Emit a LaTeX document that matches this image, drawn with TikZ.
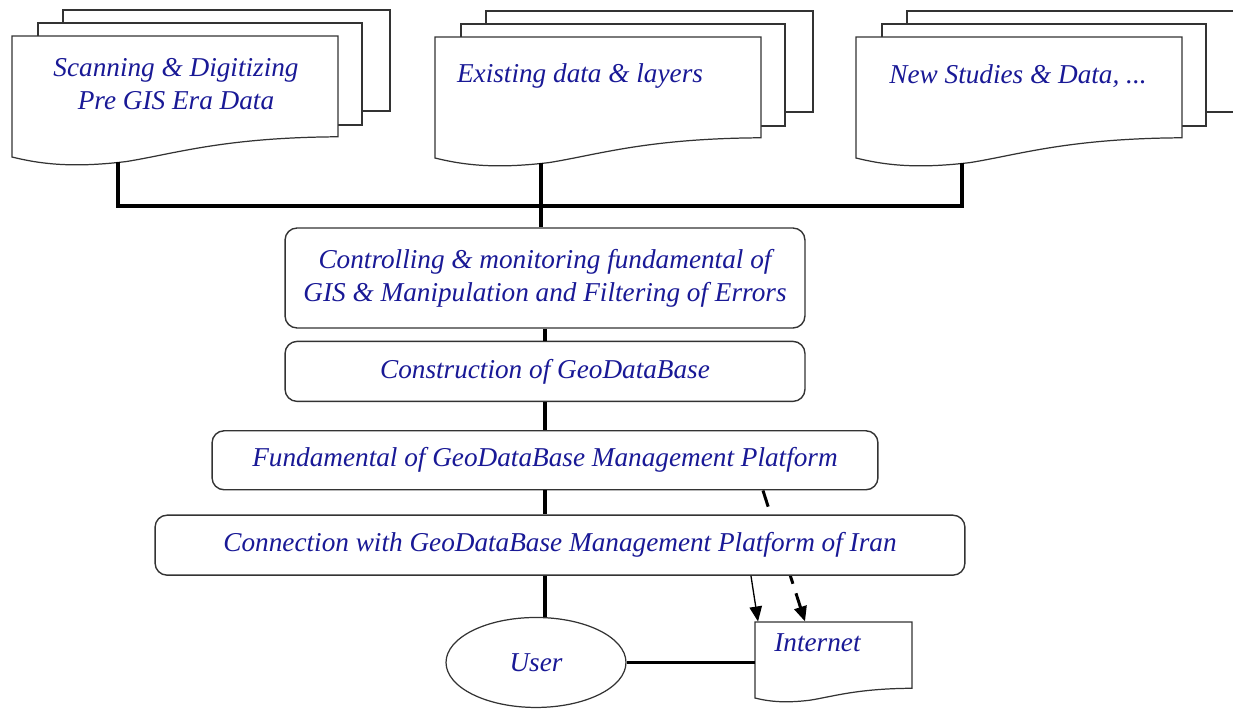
\documentclass[tikz,border=0pt]{standalone}
\usepackage{fontspec}
\setmainfont{Liberation Serif}
\usepackage{tikz}
\usetikzlibrary{arrows.meta,positioning,shapes.geometric,backgrounds}
\definecolor{navyink}{RGB}{25,25,150}

% sheet with a wavy lower edge: left, top, right, bottom (left side)
\newcommand{\wavedoc}[4]{%
  \pgfmathsetmacro{\docw}{#3-(#1)}
  \draw[docline] (#1,#4) -- (#1,#2) -- (#3,#2) -- (#3,#4-0.062*\docw)
    .. controls (#1+0.65*\docw,#4-0.06*\docw) and (#1+0.5*\docw,#4-0.01*\docw) .. (#1+0.35*\docw,#4+0.014*\docw)
    .. controls (#1+0.2*\docw,#4+0.032*\docw) and (#1+0.1*\docw,#4+0.025*\docw) .. (#1,#4) -- cycle;
}
% three stacked sheets: left, top, name of the foot coordinate
\newcommand{\docstack}[3]{%
  \draw[docline] (#1+51,#2-26) rectangle (#1+378,#2+75);
  \draw[docline] (#1+26,#2-13) rectangle (#1+350,#2+89);
  \wavedoc{#1}{#2}{#1+326}{#2+121}
  \coordinate (#3) at (#1+106,#2+126);
}

\begin{document}
\begin{tikzpicture}[x=0.02cm,y=-0.02cm,semithick,
                    >={Triangle[length=0.3cm,width=0.25cm]}]
\tikzstyle{every node}=[font=\fontsize{15.5}{19}\selectfont\itshape,text=navyink]
\tikzstyle{docline}=[draw=black!80,line width=0.7pt,fill=white]
\tikzstyle{stage}=[rectangle,rounded corners=0.24cm,draw=black!80,line width=0.8pt,
                   fill=white,align=center,inner sep=0pt]
\tikzstyle{wire}=[draw=black,line width=2pt]
\useasboundingbox (0,0) rectangle (1233,710);

\docstack{12}{36}{scanfoot}
\docstack{435}{37}{layersfoot}
\docstack{856}{37}{studiesfoot}
\node[align=center] (scan) at (176,84) {Scanning \& Digitizing\\Pre GIS Era Data};
\node (layers) at (580,76) {Existing data \& layers};
\node (studies) at (1018,76) {New Studies \& Data, ...};

\node[stage,minimum width=10.4cm,minimum height=2cm] (check) at (545,278)
  {Controlling \& monitoring fundamental of\\GIS \& Manipulation and Filtering of Errors};
\node[stage,minimum width=10.4cm,minimum height=1.2cm,below=0.24cm of check] (build)
  {Construction of GeoDataBase};
\node[stage,minimum width=13.32cm,minimum height=1.18cm,below=0.56cm of build] (base)
  {Fundamental of GeoDataBase Management Platform};
\node[stage,minimum width=16.2cm,minimum height=1.2cm,below=0.48cm of base,xshift=0.3cm] (link)
  {Connection with GeoDataBase Management Platform of Iran};
\node[ellipse,draw=black!80,line width=0.7pt,fill=white,minimum width=3.6cm,minimum height=1.8cm,
      inner sep=0pt,below=0.82cm of link,xshift=-0.48cm] (user) {User};

\wavedoc{755}{622}{912}{698}
\node[inner sep=0pt,minimum width=3.14cm,minimum height=1.52cm] (web) at (833.5,660) {};
\node[anchor=west] (webtext) at (768,643) {Internet};

\draw[wire] (scanfoot) -- ++(0,44) -| (studiesfoot);
\draw[wire] (layersfoot) -- (layersfoot |- check.north);
\draw[wire] (check.south) -- (check.south |- build.north);
\draw[wire] (check.south |- build.south) -- (check.south |- base.north);
\draw[wire] (check.south |- base.south) -- (check.south |- link.north);
\draw[wire] (check.south |- link.south) -- (check.south |- user.north);
\draw[wire] (user.east) -- (user.east -| web.west);

\draw[->,line width=0.75pt] ([xshift=3.82cm]link.south) -- ([xshift=-1.51cm]web.north);
\begin{pgfonlayer}{background}
\draw[->,line width=1.7pt,dash pattern=on 0.34cm off 0.2cm]
  ([xshift=4.36cm]base.south) -- ([xshift=-0.57cm]web.north);
\end{pgfonlayer}
\end{tikzpicture}
\end{document}
